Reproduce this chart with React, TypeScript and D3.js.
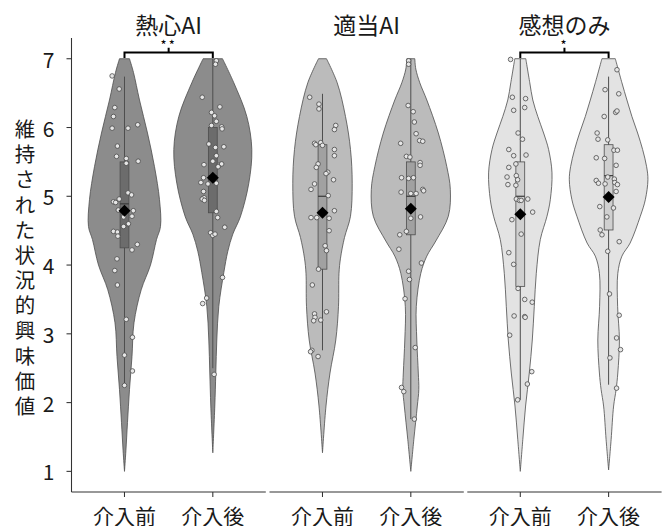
import React from "react";
import * as d3 from "d3";

// ---------- data ----------
const panels = ["熱心AI", "適当AI", "感想のみ"];
const phases = ["介入前", "介入後"];
const yTicks = [1, 2, 3, 4, 5, 6, 7];
const yTitle = "維持された状況的興味価値";

// violin density profiles: [value, half-width density]
const p1PreDensity = [[7.0,5],[6.8,9],[6.4,15],[5.92,23],[5.43,30],[4.95,35],[4.56,36],[4.37,32],[4.0,26],[3.64,16.7],[3.16,9.5],[2.67,7.5],[2.19,5],[1.71,3],[1.3,1.4],[1.0,0]];
const p1PostDensity = [[7.0,9.7],[6.65,21],[6.16,34],[5.68,39],[5.19,36],[4.7,27.5],[4.45,20],[4.2,15],[3.89,11],[3.4,6],[2.91,4],[2.43,3],[1.95,2],[1.27,0]];
const p2PreDensity = [[7.0,4],[6.65,14.7],[6.16,23],[5.68,28],[5.19,29.7],[4.71,28],[4.4,22],[4.1,18],[3.88,16.5],[3.4,16],[2.91,13.3],[2.43,7.5],[1.95,3.5],[1.27,0]];
const p2PostDensity = [[7.0,4],[6.85,5],[6.65,9],[6.4,16],[5.92,27.5],[5.43,36],[5.1,39.5],[4.71,37.5],[4.35,25],[4.13,16],[3.88,10],[3.4,5.5],[2.91,6],[2.43,7.5],[2.19,8],[1.95,6.5],[1.46,3],[1.0,0]];
const p3PreDensity = [[7.0,5.5],[6.65,9.5],[6.4,12.5],[6.16,17.5],[5.92,23.3],[5.68,28.3],[5.34,31.7],[4.95,30],[4.71,26.7],[4.37,20],[3.88,16],[3.4,14],[2.91,12],[2.43,9],[1.95,5.3],[1.46,2.5],[1.0,0]];
const p3PostDensity = [[7.0,6.7],[6.65,13.3],[6.4,18.3],[6.16,23.3],[5.92,29],[5.68,34],[5.43,38],[5.24,39.3],[4.95,36.7],[4.71,31.7],[4.32,21.5],[4.13,13.3],[3.88,9.2],[3.4,9],[2.91,10.8],[2.43,9.2],[2.19,7.5],[1.95,5],[1.46,2.5],[1.02,0]];

// box stats: [lower whisker, q1, median, q3, upper whisker]
const p1PreBox = [2.25, 4.25, 4.89, 5.5, 6.74];
const p1PostBox = [2.5, 4.76, 5.3, 6.0, 7.0];
const p2PreBox = [2.76, 3.94, 5.0, 5.75, 6.49];
const p2PostBox = [1.76, 4.44, 5.0, 5.5, 7.0];
const p3PreBox = [2.04, 3.69, 5.0, 5.5, 7.0];
const p3PostBox = [2.26, 4.51, 5.3, 5.75, 6.74];

const groupMeans = [[4.79, 5.27], [4.76, 4.82], [4.74, 4.99]];

// points: [value, horizontal jitter (category units)]
const p1PrePoints = [[6.75,-0.14],[6.56,-0.06],[6.29,-0.11],[6.16,-0.125],[5.99,-0.14],[5.99,0.04],[6.04,0.15],[5.73,-0.08],[5.58,-0.09],[5.55,0.02],[5.48,0.02],[5.51,0.155],[5.05,0.04],[5.02,0.08],[4.92,-0.125],[4.91,-0.1],[4.96,-0.06],[4.8,-0.07],[4.79,0.1],[4.71,0.085],[4.7,-0.01],[4.6,0.045],[4.56,-0.01],[4.49,-0.125],[4.48,-0.08],[4.42,-0.075],[4.3,0.145],[4.22,0.085],[4.09,-0.085],[3.92,-0.11],[3.71,-0.08],[3.21,0.02],[2.95,0.09],[2.69,0],[2.46,0.09],[2.25,0]];
const p1PostPoints = [[6.97,0.04],[6.92,0.03],[6.44,-0.12],[6.3,0.08],[6.22,-0.015],[6.17,0.02],[6.09,0.04],[6.03,-0.015],[6.01,0.1],[5.98,0.105],[5.76,-0.045],[5.71,0.03],[5.72,0.125],[5.59,0.04],[5.46,-0.1],[5.51,0],[5.45,0.07],[5.47,0.1],[5.43,0.06],[5.27,-0.105],[5.2,-0.135],[5.18,-0.055],[5.19,0.04],[5.07,-0.105],[4.98,-0.1],[4.96,-0.12],[4.94,-0.095],[4.78,0.04],[4.69,0.055],[4.55,0.135],[4.47,-0.025],[4.43,0],[4.45,0.025],[3.82,0.11],[3.52,-0.07],[3.44,-0.115],[2.41,0.015]];
const p2PrePoints = [[6.44,-0.145],[6.34,-0.04],[6.27,-0.04],[6.03,0.15],[5.97,0.135],[5.77,-0.09],[5.75,-0.075],[5.78,-0.02],[5.74,0],[5.68,0.135],[5.59,0.135],[5.47,-0.05],[5.42,-0.07],[5.35,0.06],[5.33,0.04],[5.24,0.125],[5.18,-0.09],[5.1,-0.13],[5.01,0.065],[4.79,0.135],[4.69,-0.065],[4.69,-0.13],[4.68,0.075],[4.5,0.075],[4.28,0.03],[4.21,0.045],[3.94,-0.045],[3.71,-0.115],[3.29,-0.09],[3.24,-0.085],[3.19,-0.1],[3.2,-0.02],[3.32,0.045],[2.76,-0.12],[2.74,-0.135],[2.67,-0.05]];
const p2PostPoints = [[6.97,-0.025],[6.92,-0.025],[6.32,-0.03],[6.23,0.027],[6.08,0.04],[5.91,0.06],[5.77,-0.115],[5.81,0.1],[5.8,0.135],[5.58,-0.05],[5.57,-0.01],[5.49,0.105],[5.45,0.105],[5.27,-0.105],[5.26,-0.025],[5.27,0.03],[5.06,-0.11],[5.04,0],[5.04,0.06],[5.1,0.135],[5.08,0.145],[4.68,0],[4.7,0.11],[4.49,-0.05],[4.44,-0.125],[4.23,-0.135],[4.03,0.12],[3.91,-0.025],[3.79,-0.015],[3.51,-0.065],[2.8,0.05],[2.22,-0.105],[2.16,-0.08],[1.76,0.04]];
const p3PrePoints = [[6.99,-0.11],[6.44,-0.09],[6.42,0.06],[6.25,-0.075],[6.29,0.05],[5.92,-0.025],[5.83,0.025],[5.68,-0.13],[5.59,-0.075],[5.6,0.065],[5.47,-0.05],[5.42,-0.13],[5.3,-0.045],[5.28,-0.15],[5.24,-0.03],[5.17,-0.14],[5.16,-0.05],[4.96,-0.045],[4.94,-0.01],[4.94,0.01],[4.96,0.085],[4.77,0.14],[4.66,-0.095],[4.45,0.01],[4.18,-0.13],[4.01,-0.075],[3.66,-0.025],[3.5,0.05],[3.46,0.135],[3.26,-0.07],[3.25,0.05],[3.24,0.055],[2.98,-0.12],[2.45,0.13],[2.27,0.08],[2.04,-0.03]];
const p3PostPoints = [[6.84,0.095],[6.55,-0.04],[6.49,0.115],[6.22,0.08],[6.24,0.095],[6.16,-0.05],[5.92,-0.13],[5.83,-0.12],[5.82,-0.01],[5.67,0.06],[5.67,0.1],[5.56,-0.14],[5.55,-0.045],[5.45,0.085],[5.23,-0.14],[5.19,-0.115],[5.28,-0.01],[5.25,0.065],[5.2,0.07],[5.17,0.1],[5.07,0.085],[5.18,-0.04],[4.85,-0.1],[4.83,0.055],[4.7,-0.02],[4.51,-0.095],[4.44,-0.075],[4.34,0.12],[4.2,-0.01],[3.58,0.01],[3.27,0.12],[2.94,0.09],[2.77,0.135],[2.65,0.015],[2.21,0.09]];

// significance brackets: [panel index, label]
const sigLabels: [number, string][] = [[0, "**"], [2, "*"]];

const densities = [[p1PreDensity, p1PostDensity], [p2PreDensity, p2PostDensity], [p3PreDensity, p3PostDensity]];
const boxes = [[p1PreBox, p1PostBox], [p2PreBox, p2PostBox], [p3PreBox, p3PostBox]];
const points = [[p1PrePoints, p1PostPoints], [p2PrePoints, p2PostPoints], [p3PrePoints, p3PostPoints]];

// ---------- styles ----------
const violinFill = ["#8c8c8c", "#bbbbbb", "#e3e3e3"];
const boxFill = ["#6c6c6c", "#a1a1a1", "#d0d0d0"];
const FONT = "'Noto Sans CJK JP', 'Noto Sans', sans-serif";

export default function App() {
  const W = 667, H = 526;
  const panelLefts = [71.5, 269.5, 467.3];
  const panelW = 194.3;
  const y = d3.scaleLinear().domain([0.7, 7.3]).range([492, 38.1]);
  const densityToUnits = 1 / 88.3; // density profile half-width → category units

  const els: React.ReactNode[] = [];

  panels.forEach((pName, pi) => {
    const x = d3.scaleLinear().domain([0.4, 2.6]).range([panelLefts[pi], panelLefts[pi] + panelW]);

    phases.forEach((ph, gi) => {
      const c = gi + 1;
      const dens = densities[pi][gi] as number[][];
      const area = d3.area<number[]>()
        .y((d) => y(d[0]))
        .x0((d) => x(c - d[1] * densityToUnits))
        .x1((d) => x(c + d[1] * densityToUnits))
        .curve(d3.curveCatmullRom.alpha(0.5));
      els.push(<path key={`v${pi}${gi}`} d={area(dens) || ""} fill={violinFill[pi]} stroke="#4d4d4d" strokeWidth={0.8} />);

      const b = boxes[pi][gi];
      const bw = 0.05;
      els.push(<line key={`w${pi}${gi}`} x1={x(c)} x2={x(c)} y1={y(b[0])} y2={y(b[4])} stroke="#4d4d4d" strokeWidth={1} />);
      els.push(<rect key={`b${pi}${gi}`} x={x(c - bw)} width={x(c + bw) - x(c - bw)} y={y(b[3])} height={y(b[1]) - y(b[3])} fill={boxFill[pi]} stroke="#4d4d4d" strokeWidth={0.8} />);
      els.push(<line key={`m${pi}${gi}`} x1={x(c - bw)} x2={x(c + bw)} y1={y(b[2])} y2={y(b[2])} stroke="#3a3a3a" strokeWidth={1.2} />);

      (points[pi][gi] as number[][]).forEach((pt, k) => {
        els.push(<circle key={`p${pi}${gi}${k}`} cx={x(c + pt[1])} cy={y(pt[0])} r={2.3} fill="#e6e6e6" stroke="#4a4a4a" strokeWidth={0.8} />);
      });

      const mean = groupMeans[pi][gi];
      const sym = d3.symbol().type(d3.symbolSquare).size(72)();
      els.push(<path key={`mean${pi}${gi}`} d={sym || ""} transform={`translate(${x(c)},${y(mean)}) rotate(45)`} fill="#000" />);

      // x tick + label
      els.push(<line key={`xt${pi}${gi}`} x1={x(c)} x2={x(c)} y1={492} y2={497} stroke="#333" strokeWidth={1.07} />);
      els.push(<text key={`xl${pi}${gi}`} x={x(c)} y={514.5} textAnchor="middle" dominantBaseline="central" fontSize={21} fontFamily={FONT} fill="#1a1a1a">{ph}</text>);
    });

    // x axis line
    els.push(<line key={`xa${pi}`} x1={panelLefts[pi]} x2={panelLefts[pi] + panelW} y1={492} y2={492} stroke="#333" strokeWidth={1.07} />);
    // strip label
    els.push(<text key={`s${pi}`} x={panelLefts[pi] + panelW / 2} y={24} textAnchor="middle" dominantBaseline="central" fontSize={23} fontFamily={FONT} fill="#1a1a1a">{pName}</text>);

    const sig = sigLabels.find((s) => s[0] === pi);
    if (sig) {
      const x1 = x(1), x2 = x(2), xm = (x1 + x2) / 2;
      const yb = y(7.09), yt = y(7.01), yn = y(7.16);
      els.push(<path key={`br${pi}`} d={`M${x1},${yt}L${x1},${yb}L${x2},${yb}L${x2},${yt}M${xm},${yb}L${xm},${yn}`} fill="none" stroke="#000" strokeWidth={2} />);
      els.push(<text key={`bt${pi}`} x={xm} y={y(7.21)} textAnchor="middle" dominantBaseline="central" fontSize={13} letterSpacing={2} fontFamily={FONT} fill="#000">{sig[1]}</text>);
    }
  });

  // y axis
  els.push(<line key="ya" x1={panelLefts[0]} x2={panelLefts[0]} y1={38.1} y2={492} stroke="#333" strokeWidth={1.07} />);
  yTicks.forEach((t) => {
    els.push(<line key={`yt${t}`} x1={panelLefts[0] - 5} x2={panelLefts[0]} y1={y(t)} y2={y(t)} stroke="#333" strokeWidth={1.07} />);
    els.push(<text key={`yl${t}`} x={panelLefts[0] - 17} y={y(t)} textAnchor="end" dominantBaseline="central" fontSize={21} fontFamily={FONT} fill="#1a1a1a">{t}</text>);
  });
  // y title (stacked vertical characters)
  const chars = Array.from(yTitle);
  const yc = d3.scaleLinear().domain([0, chars.length - 1]).range([128, 405]);
  chars.forEach((ch, i) => {
    els.push(<text key={`ytt${i}`} x={25} y={yc(i)} textAnchor="middle" dominantBaseline="central" fontSize={20.5} fontFamily={FONT} fill="#1a1a1a">{ch}</text>);
  });

  return (
    <svg width={W} height={H} style={{ position: "absolute", left: 0, top: 0, background: "#fff" }}>
      <rect width={W} height={H} fill="#fff" />
      {els}
    </svg>
  );
}
